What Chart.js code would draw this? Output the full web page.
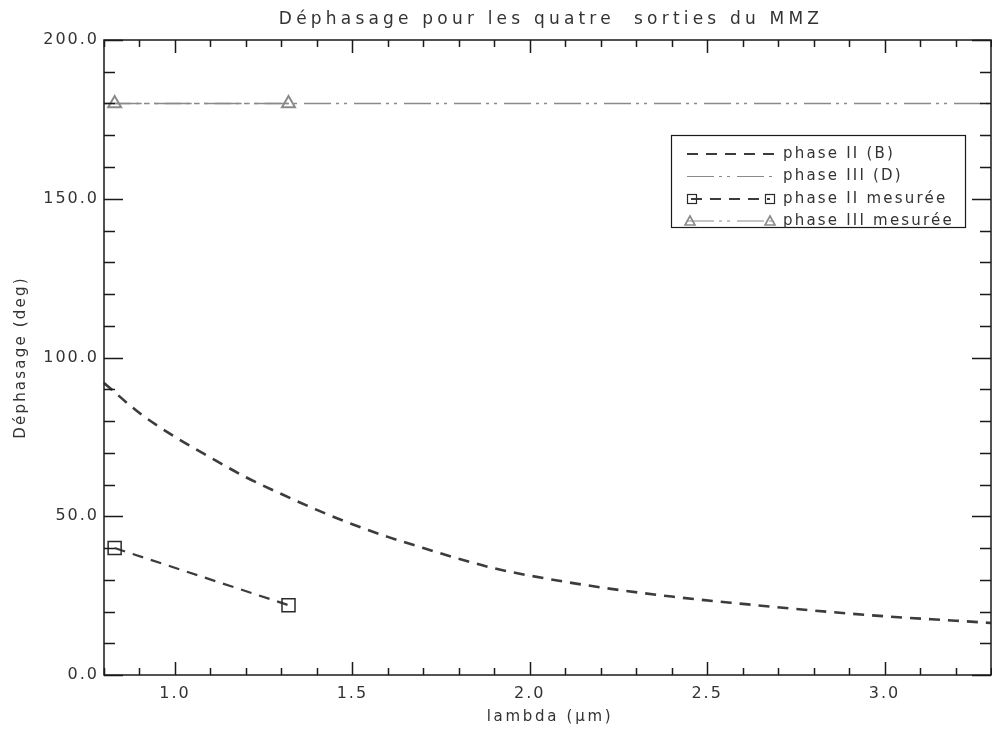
<!DOCTYPE html>
<html>
<head>
<meta charset="utf-8">
<script src="https://cdn.jsdelivr.net/npm/chart.js@4.4.1/dist/chart.umd.min.js"></script>
<style>
  html, body { margin: 0; padding: 0; background: #fff; }
  canvas { display: block; }
</style>
</head>
<body>
<canvas id="phaseCanvas" width="992" height="733"></canvas>
<script>
// phase II (B) theoretical curve
const lambdaB = [0.8, 0.9, 1.0, 1.1, 1.2, 1.3, 1.4, 1.5, 1.6, 1.7, 1.8, 1.9, 2.0, 2.2, 2.4, 2.6, 2.8, 3.0, 3.2, 3.3]
const phaseB = [92, 82.5, 75, 68.5, 62.3, 57, 52, 47.5, 43.5, 40, 36.6, 33.6, 31.3, 27.6, 24.7, 22.4, 20.3, 18.5, 17.1, 16.4]

// phase III (D) theoretical
const lambdaD = [0.8, 3.3]
const phaseD = [180, 180]

// measured points
const lambdaMes = [0.83, 1.32]
const phaseIIMes = [40, 22]
const phaseIIIMes = [180, 180]

// axes
const xMin = 0.8, xMax = 3.3
const yMin = 0, yMax = 200
const xTicks = [1.0, 1.5, 2.0, 2.5, 3.0]
const yTicks = [0, 50, 100, 150, 200]
const xMinorStep = 0.1
const yMinorStep = 10

const titleText = "Déphasage pour les quatre  sorties du MMZ"
const xTitle = "lambda (µm)"
const yTitle = "Déphasage (deg)"

const darkLine = "#3c3c3c"
const greyLine = "#8a8a8a"
const dashB = [11, 8]
const dashD = [27, 5, 3, 5, 3, 7]
const fontFam = "'DejaVu Sans', sans-serif"

const pts = (xs, ys) => xs.map((x, i) => ({x: x, y: ys[i]}))

// draws frame, inward ticks, titles and legend the IDL way
const idlDecor = {
    id: "idlDecor",
    beforeDraw(chart) {
        chart.ctx.letterSpacing = "2px"
    },
    afterDraw(chart) {
        const ctx = chart.ctx
        const a = chart.chartArea
        const xs = chart.scales.x, ys = chart.scales.y
        ctx.save()
        ctx.strokeStyle = "#1a1a1a"
        ctx.lineWidth = 1.5
        ctx.setLineDash([])
        ctx.strokeRect(a.left, a.top, a.right - a.left, a.bottom - a.top)

        ctx.beginPath()
        for (let v = xMin; v <= xMax + 1e-6; v += xMinorStep) {
            const vv = Math.round(v * 10) / 10
            const major = xTicks.some(t => Math.abs(t - vv) < 1e-6)
            const len = major ? 13 : 7
            const px = Math.round(xs.getPixelForValue(vv)) + 0.5
            ctx.moveTo(px, a.bottom); ctx.lineTo(px, a.bottom - len)
            ctx.moveTo(px, a.top); ctx.lineTo(px, a.top + len)
        }
        for (let v = yMin; v <= yMax; v += yMinorStep) {
            const major = yTicks.includes(v)
            const len = major ? 19 : 11
            const py = Math.round(ys.getPixelForValue(v)) + 0.5
            ctx.moveTo(a.left, py); ctx.lineTo(a.left + len, py)
            ctx.moveTo(a.right, py); ctx.lineTo(a.right - len, py)
        }
        ctx.stroke()

        // titles
        ctx.fillStyle = "#333"
        ctx.textAlign = "center"
        ctx.textBaseline = "alphabetic"
        ctx.font = "17px " + fontFam
        ctx.letterSpacing = "4.2px"
        ctx.fillText(titleText, 551, 24)

        ctx.font = "15px " + fontFam
        ctx.letterSpacing = "2.7px"
        ctx.textBaseline = "middle"
        ctx.fillText(xTitle, 550, 717)

        ctx.letterSpacing = "2.2px"
        ctx.save()
        ctx.translate(21, (a.top + a.bottom) / 2)
        ctx.rotate(-Math.PI / 2)
        ctx.fillText(yTitle, 0, 0)
        ctx.restore()

        // legend
        const lx = 671, ly = 135, lw = 294, lh = 92
        ctx.lineWidth = 1.2
        ctx.strokeStyle = "#1a1a1a"
        ctx.strokeRect(lx + 0.5, ly + 0.5, lw, lh)
        const rowY = [154, 176.5, 199, 221]
        const s0 = 687, s1 = 776
        ctx.textAlign = "left"
        ctx.textBaseline = "middle"
        ctx.font = "15px " + fontFam
        chart.data.datasets.forEach((ds, i) => {
            const y = rowY[i]
            ctx.save()
            ctx.strokeStyle = ds.borderColor
            ctx.lineWidth = ds.legendWidth
            ctx.setLineDash(ds.borderDash)
            ctx.beginPath()
            if (ds.pointStyle === "rect") {
                ctx.moveTo(s0 + 4, y); ctx.lineTo(s1 - 6, y)
            } else {
                ctx.moveTo(s0, y); ctx.lineTo(s1, y)
            }
            ctx.stroke()
            ctx.setLineDash([])
            if (ds.pointStyle === "rect") {
                ctx.strokeStyle = ds.pointBorderColor
                ctx.lineWidth = 1.2
                ctx.strokeRect(s0 + 0.5, y - 4.5, 9, 9)
                ctx.strokeRect(s1 - 10.5, y - 4.5, 9, 9)
            } else if (ds.pointStyle === "triangle") {
                ctx.strokeStyle = ds.pointBorderColor
                ctx.lineWidth = 1.6
                ;[s0 + 3, s1 - 6].forEach(cx => {
                    ctx.beginPath()
                    ctx.moveTo(cx, y - 5); ctx.lineTo(cx + 5, y + 4); ctx.lineTo(cx - 5, y + 4); ctx.closePath()
                    ctx.stroke()
                })
            }
            ctx.restore()
            ctx.fillStyle = "#333"
            ctx.letterSpacing = "2.2px"
            ctx.fillText(ds.label, 783, y)
        })
        ctx.restore()
    }
}

const phaseCanvas = document.getElementById("phaseCanvas")
const phaseChart = new Chart(phaseCanvas, {
    type: "scatter",
    data: {
        datasets: [{
            label: "phase II (B)", data: pts(lambdaB, phaseB), showLine: true,
            cubicInterpolationMode: "monotone",
            borderColor: darkLine, borderWidth: 2.6, borderDash: dashB, pointRadius: 0, legendWidth: 2
        }, {
            label: "phase III (D)", data: pts(lambdaD, phaseD), showLine: true,
            borderColor: greyLine, borderWidth: 1.4, borderDash: dashD, pointRadius: 0, legendWidth: 1.2
        }, {
            label: "phase II mesurée", data: pts(lambdaMes, phaseIIMes), showLine: true,
            borderColor: darkLine, borderWidth: 2.2, borderDash: dashB, legendWidth: 2,
            pointStyle: "rect", pointRadius: 9.2, pointBorderWidth: 1.5,
            pointBorderColor: "#2a2a2a", pointBackgroundColor: "rgba(0,0,0,0)"
        }, {
            label: "phase III mesurée", data: pts(lambdaMes, phaseIIIMes), showLine: true,
            borderColor: greyLine, borderWidth: 1.4, borderDash: dashD, legendWidth: 1.2,
            pointStyle: "triangle", pointRadius: 7.5, pointBorderWidth: 2,
            pointBorderColor: greyLine, pointBackgroundColor: "rgba(0,0,0,0)"
        }]
    },
    options: {
        responsive: false,
        devicePixelRatio: 1,
        animation: false,
        clip: false,
        layout: {autoPadding: false, padding: {top: 40, right: 1, left: 0, bottom: 0}},
        plugins: {legend: {display: false}, title: {display: false}, tooltip: {enabled: false}},
        scales: {
            x: {
                type: "linear", min: xMin, max: xMax,
                afterFit: s => { s.height = 58; s.paddingLeft = 0; s.paddingRight = 0 },
                afterBuildTicks: s => { s.ticks = xTicks.map(v => ({value: v})) },
                grid: {display: false, drawTicks: false},
                border: {display: false},
                ticks: {
                    callback: v => v.toFixed(1), padding: 9, color: "#333",
                    font: {family: fontFam, size: 16}, maxRotation: 0, autoSkip: false
                }
            },
            y: {
                type: "linear", min: yMin, max: yMax,
                afterFit: s => { s.width = 104; s.paddingTop = 0; s.paddingBottom = 0 },
                afterBuildTicks: s => { s.ticks = yTicks.map(v => ({value: v})) },
                grid: {display: false, drawTicks: false},
                border: {display: false},
                ticks: {
                    callback: v => v.toFixed(1), padding: 5, color: "#333",
                    font: {family: fontFam, size: 16}, autoSkip: false
                }
            }
        }
    },
    plugins: [idlDecor]
})
</script>
</body>
</html>
